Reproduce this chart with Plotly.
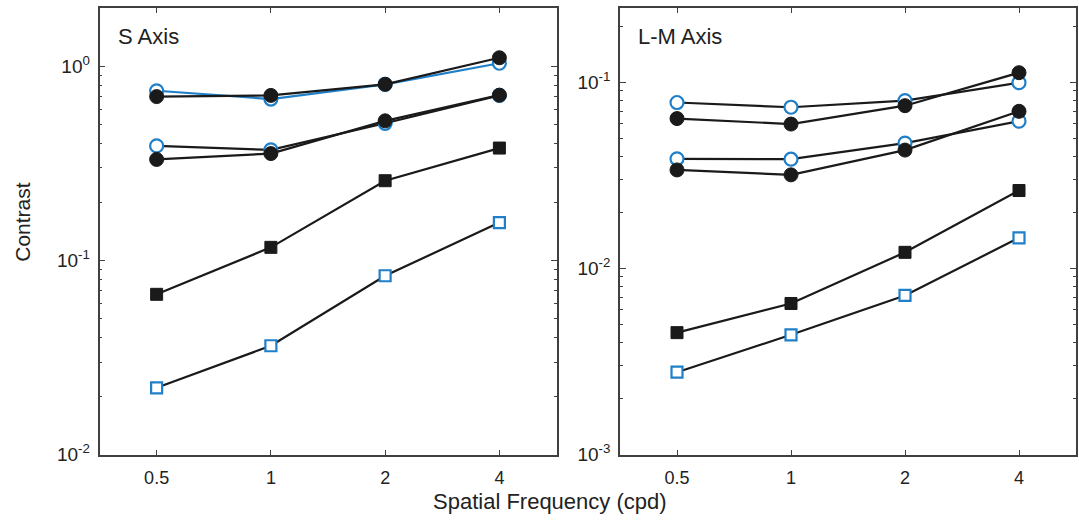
import math
import plotly.graph_objects as go

# Spatial frequencies (cycles per degree)
freq = [0.5, 1, 2, 4]
freq_labels = ["0.5", "1", "2", "4"]

# S-axis thresholds
s_open_hi = [0.75, 0.68, 0.81, 1.04]
s_filled_hi = [0.70, 0.71, 0.81, 1.11]
s_open_mid = [0.39, 0.372, 0.51, 0.71]
s_filled_mid = [0.332, 0.356, 0.525, 0.712]
s_filled_sq = [0.067, 0.117, 0.258, 0.38]
s_open_sq = [0.0221, 0.0364, 0.0835, 0.157]

# L-M axis thresholds
lm_open_hi = [0.0778, 0.0734, 0.0797, 0.0995]
lm_filled_hi = [0.0638, 0.0596, 0.0748, 0.1125]
lm_open_mid = [0.0388, 0.0386, 0.0471, 0.0618]
lm_filled_mid = [0.0338, 0.0318, 0.0432, 0.0698]
lm_filled_sq = [0.00452, 0.00648, 0.0122, 0.0262]
lm_open_sq = [0.00277, 0.00440, 0.00716, 0.0146]

# y tick labels per panel
s_yticks = [0.01, 0.1, 1]
s_yticktext = ["10<sup>-2</sup>", "10<sup>-1</sup>", "10<sup>0</sup>"]
lm_yticks = [0.001, 0.01, 0.1]
lm_yticktext = ["10<sup>-3</sup>", "10<sup>-2</sup>", "10<sup>-1</sup>"]

BLUE = "#1f7fc8"
BLACK = "#1a1a1a"
AXIS = "#404040"
TEXT = "#222222"
FONT = "Liberation Sans, Arial, sans-serif"

W, H = 1079, 527
fig = go.Figure()


def add_series(xa, ya, y, symbol, filled, line_color):
    if filled:
        marker = dict(symbol=symbol, size=14 if symbol == "circle" else 12,
                      color=BLACK, line=dict(color=BLACK, width=1))
    else:
        marker = dict(symbol=symbol, size=13 if symbol == "circle" else 11,
                      color="white", line=dict(color=BLUE, width=2.2))
    fig.add_trace(go.Scatter(
        x=freq, y=y, mode="lines+markers", xaxis=xa, yaxis=ya,
        line=dict(color=line_color, width=2.2), marker=marker,
        showlegend=False, hoverinfo="x+y"))


# S-axis panel
add_series("x", "y", s_open_hi, "circle", False, BLUE)
add_series("x", "y", s_filled_hi, "circle", True, BLACK)
add_series("x", "y", s_open_mid, "circle", False, BLACK)
add_series("x", "y", s_filled_mid, "circle", True, BLACK)
add_series("x", "y", s_filled_sq, "square", True, BLACK)
add_series("x", "y", s_open_sq, "square", False, BLACK)

# L-M axis panel
add_series("x2", "y2", lm_open_hi, "circle", False, BLACK)
add_series("x2", "y2", lm_filled_hi, "circle", True, BLACK)
add_series("x2", "y2", lm_open_mid, "circle", False, BLACK)
add_series("x2", "y2", lm_filled_mid, "circle", True, BLACK)
add_series("x2", "y2", lm_filled_sq, "square", True, BLACK)
add_series("x2", "y2", lm_open_sq, "square", False, BLACK)

x_range = [math.log10(0.5 / math.sqrt(2)), math.log10(4 * math.sqrt(2))]
y_dom = [1 - 464.3 / H, 1 - 8.3 / H]

common_x = dict(
    type="log", range=x_range, tickvals=freq, ticktext=freq_labels,
    ticks="inside", ticklen=5, tickwidth=1.2, tickcolor=AXIS,
    showline=True, linecolor=AXIS, linewidth=1.6, mirror="ticks",
    showgrid=False, zeroline=False, ticklabelstandoff=6,
    tickfont=dict(family=FONT, size=18, color=TEXT),
)
common_y = dict(
    type="log", ticks="inside", ticklen=6, tickwidth=1.2, tickcolor=AXIS,
    showline=True, linecolor=AXIS, linewidth=1.6, mirror="ticks",
    showgrid=False, zeroline=False, ticklabelstandoff=4,
    minor=dict(ticks="inside", ticklen=3, tickwidth=1, tickcolor=AXIS,
               dtick="D1", showgrid=False),
    tickfont=dict(family=FONT, size=19, color=TEXT),
)

fig.update_layout(
    width=W, height=H,
    margin=dict(l=0, r=0, t=0, b=0),
    paper_bgcolor="white", plot_bgcolor="white",
    xaxis=dict(domain=[99.5 / W, 556.5 / W], anchor="y", **common_x),
    yaxis=dict(domain=y_dom, anchor="x",
               range=[-2, math.log10(2)], tickvals=s_yticks,
               ticktext=s_yticktext, **common_y),
    xaxis2=dict(domain=[620 / W, 1076 / W], anchor="y2", **common_x),
    yaxis2=dict(domain=y_dom, anchor="x2",
                range=[-3, math.log10(0.25)], tickvals=lm_yticks,
                ticktext=lm_yticktext, **common_y),
    annotations=[
        dict(text="S Axis", xref="paper", yref="paper",
             x=116 / W, y=1 - 37 / H, xanchor="left", yanchor="middle",
             showarrow=False, font=dict(family=FONT, size=22, color=TEXT)),
        dict(text="L-M Axis", xref="paper", yref="paper",
             x=636 / W, y=1 - 37 / H, xanchor="left", yanchor="middle",
             showarrow=False, font=dict(family=FONT, size=22, color=TEXT)),
        dict(text="Contrast", xref="paper", yref="paper",
             x=22.5 / W, y=1 - 227 / H, textangle=-90,
             xanchor="center", yanchor="middle",
             showarrow=False, font=dict(family=FONT, size=21, color=TEXT)),
        dict(text="Spatial Frequency (cpd)", xref="paper", yref="paper",
             x=550 / W, y=1 - 512 / H, xanchor="center", yanchor="middle",
             showarrow=False, font=dict(family=FONT, size=22, color=TEXT)),
    ],
)

fig.write_html("out.html")
